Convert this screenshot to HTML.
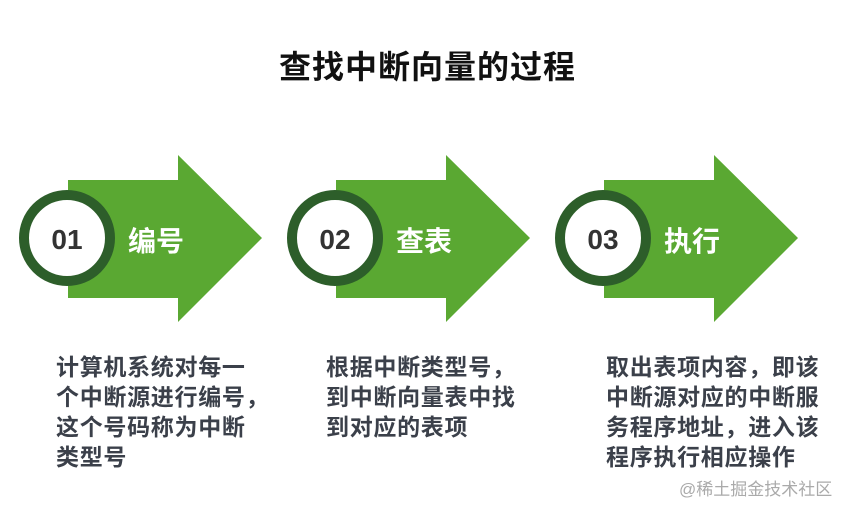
<!DOCTYPE html>
<html><head><meta charset="utf-8"><style>
body{margin:0;width:855px;height:512px;background:#fff;position:relative;overflow:hidden;font-family:"Liberation Sans","Noto Sans CJK SC",sans-serif}
.t{position:absolute;font-weight:bold;color:#3b404a;font-size:23px;line-height:30px;letter-spacing:0.7px;white-space:nowrap}
</style></head><body>
<div style="position:absolute;left:0;top:42px;width:855px;text-align:center;font-size:32px;font-weight:bold;color:#111;letter-spacing:1px">查找中断向量的过程</div>
<svg width="855" height="512" style="position:absolute;left:0;top:0">
<polygon points="68,180 178,180 178,155 262,238 178,322 178,298 68,298" fill="#5aa832"/>
<circle cx="67" cy="238" r="43" fill="#fff" stroke="#2d5e2a" stroke-width="10"/>
<text x="67" y="249" text-anchor="middle" font-size="28" font-weight="bold" fill="#333" font-family="Liberation Sans">01</text>
<polygon points="336,180 446,180 446,155 530,238 446,322 446,298 336,298" fill="#5aa832"/>
<circle cx="335" cy="238" r="43" fill="#fff" stroke="#2d5e2a" stroke-width="10"/>
<text x="335" y="249" text-anchor="middle" font-size="28" font-weight="bold" fill="#333" font-family="Liberation Sans">02</text>
<polygon points="604,180 714,180 714,155 798,238 714,322 714,298 604,298" fill="#5aa832"/>
<circle cx="603" cy="238" r="43" fill="#fff" stroke="#2d5e2a" stroke-width="10"/>
<text x="603" y="249" text-anchor="middle" font-size="28" font-weight="bold" fill="#333" font-family="Liberation Sans">03</text>
<g font-family="Liberation Sans,Noto Sans CJK SC,sans-serif" font-size="28" font-weight="bold" fill="#fff">
<text x="128" y="251">编号</text><text x="396" y="251">查表</text><text x="664" y="251">执行</text></g>
</svg>
<div class="t" style="left:56px;top:352px">计算机系统对每一<br>个中断源进行编号，<br>这个号码称为中断<br>类型号</div>
<div class="t" style="left:326px;top:352px">根据中断类型号，<br>到中断向量表中找<br>到对应的表项</div>
<div class="t" style="left:606px;top:352px">取出表项内容，即该<br>中断源对应的中断服<br>务程序地址，进入该<br>程序执行相应操作</div>
<div style="position:absolute;left:679px;top:475px;font-size:17px;color:#aaa">@稀土掘金技术社区</div>
</body></html>
